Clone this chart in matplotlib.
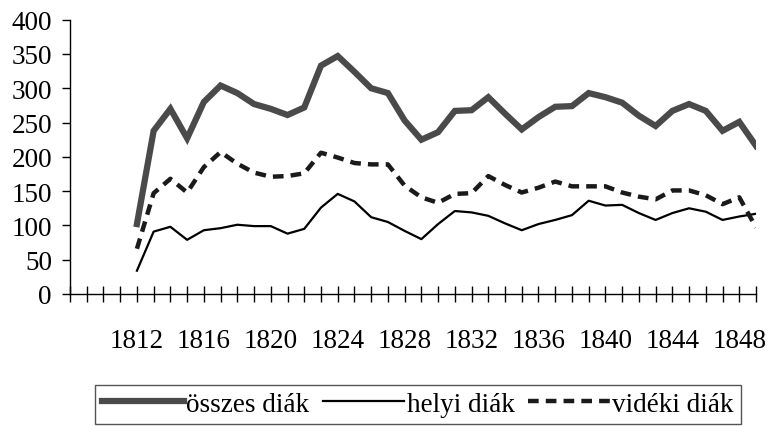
import matplotlib.pyplot as plt
from matplotlib.ticker import MultipleLocator, FuncFormatter

plt.rcParams['font.family'] = ['Liberation Serif', 'DejaVu Serif']

years = list(range(1812, 1850))

osszes = [102, 238, 270, 227, 280, 304, 293, 277, 270, 261, 272, 333, 347, 324,
          300, 293, 253, 225, 236, 267, 268, 287, 263, 240, 258, 273, 274, 293,
          287, 279, 260, 245, 267, 277, 267, 238, 251, 216]
helyi = [34, 91, 98, 79, 93, 96, 101, 99, 99, 88, 95, 126, 146, 135,
         112, 105, 92, 80, 102, 121, 119, 114, 103, 93, 102, 108, 115, 136,
         129, 130, 118, 108, 118, 125, 120, 108, 113, 117]
videki = [66, 147, 168, 148, 185, 207, 190, 177, 171, 172, 176, 206, 199, 191,
          189, 189, 158, 141, 133, 146, 147, 172, 159, 148, 155, 164, 157, 157,
          157, 148, 142, 138, 151, 151, 144, 131, 141, 97]

W, H = 771, 427
fig = plt.figure(figsize=(W / 100, H / 100), dpi=100)
ax = fig.add_axes([70 / W, 1 - 295 / H, 686 / W, 274.3 / H])

ax.plot(years, osszes, color='#4a4a4a', lw=4.5, solid_joinstyle='miter',
        label='összes diák')
ax.plot(years, helyi, color='black', lw=1.6, label='helyi diák')
ax.plot(years, videki, color='#1a1a1a', lw=3.2, dashes=(2.4, 1.6),
        dash_capstyle='butt', label='vidéki diák')

ax.set_xlim(1808, 1849)
ax.set_ylim(0, 400)
ax.set_yticks(range(0, 401, 50))
ax.xaxis.set_major_locator(MultipleLocator(1))
ax.xaxis.set_major_formatter(FuncFormatter(
    lambda v, p: str(int(v)) if int(round(v)) % 4 == 0 and v >= 1812 else ''))

for s in ['top', 'right']:
    ax.spines[s].set_visible(False)
for s in ['left', 'bottom']:
    ax.spines[s].set_linewidth(1.0)
ax.tick_params(axis='x', direction='inout', length=11, width=1.0,
               labelsize=19.5, pad=19)
ax.tick_params(axis='y', direction='out', length=6, width=1.0,
               labelsize=19.5, pad=7)
for lab in ax.get_xticklabels() + ax.get_yticklabels():
    lab.set_clip_on(False)

leg = fig.legend(loc='upper center', bbox_to_anchor=(418 / W, 1 - 386 / H),
                 ncol=3, fontsize=19.5, handlelength=3.0, handletextpad=0.1,
                 columnspacing=0.5, borderpad=0.25, borderaxespad=0,
                 fancybox=False, framealpha=1, edgecolor='#555555')
leg.get_frame().set_linewidth(1.0)

fig.savefig('out.png', dpi=100)
